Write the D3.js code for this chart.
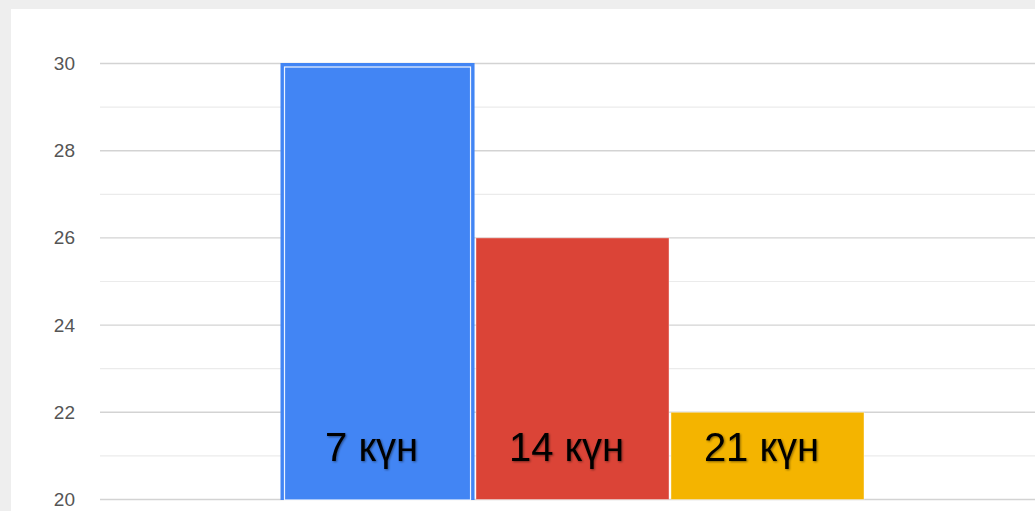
<!DOCTYPE html>
<html>
<head>
<meta charset="utf-8">
<script src="https://cdn.jsdelivr.net/npm/d3@7"></script>
<style>
  body { margin: 0; background: #eeeeee; }
  svg { display: block; }
</style>
</head>
<body>
<script>
// chart data
var categories = ["7 күн", "14 күн", "21 күн"];
var values = [30, 26, 22];
var barColors = ["#4285f4", "#db4437", "#f4b400"];
var tickValues = [20, 22, 24, 26, 28, 30];

var W = 1035, H = 511;

var svg = d3.select("body").append("svg")
    .attr("width", W)
    .attr("height", H);

var defs = svg.append("defs");
var f = defs.append("filter").attr("id", "shadow")
    .attr("x", "-10%").attr("y", "-10%").attr("width", "130%").attr("height", "130%");
f.append("feDropShadow")
    .attr("dx", 1).attr("dy", 1).attr("stdDeviation", 0.8)
    .attr("flood-color", "#000").attr("flood-opacity", 0.45);

// white panel
svg.append("rect")
    .attr("x", 11).attr("y", 9)
    .attr("width", W - 11).attr("height", H - 9)
    .attr("fill", "#fff");

var y = d3.scaleLinear().domain([20, 30]).range([499.5, 63.5]);
var x = d3.scaleBand().domain(categories).range([281, 864]).paddingInner(0.01).paddingOuter(0);

// minor gridlines
svg.append("g").selectAll("line")
    .data(d3.range(21, 31, 2))
  .enter().append("line")
    .attr("x1", 100).attr("x2", W)
    .attr("y1", function(d) { return y(d); })
    .attr("y2", function(d) { return y(d); })
    .attr("stroke", "#ebebeb")
    .attr("stroke-width", 1.2);

// major gridlines
svg.append("g").selectAll("line")
    .data(tickValues)
  .enter().append("line")
    .attr("x1", 100).attr("x2", W)
    .attr("y1", function(d) { return y(d); })
    .attr("y2", function(d) { return y(d); })
    .attr("stroke", "#d3d3d3")
    .attr("stroke-width", 1.4);

// y axis labels
var yAxis = d3.axisLeft(y).tickValues(tickValues).tickSize(0).tickPadding(0);
var ag = svg.append("g")
    .attr("transform", "translate(75,0)")
    .call(yAxis);
ag.select(".domain").remove();
ag.selectAll("text")
    .attr("fill", "#555")
    .attr("font-family", "Liberation Sans, Arial, sans-serif")
    .attr("font-size", 19);

// bars
var bars = svg.append("g").selectAll("g")
    .data(categories)
  .enter().append("g");

bars.append("rect")
    .attr("x", function(d) { return x(d); })
    .attr("y", function(d, i) { return y(values[i]); })
    .attr("width", x.bandwidth())
    .attr("height", function(d, i) { return y(20) - y(values[i]); })
    .attr("fill", function(d, i) { return barColors[i]; })
    .attr("stroke", function(d, i) { return i == 0 ? barColors[i] : "rgba(255,255,255,0.4)"; })
    .attr("stroke-width", 1);

// highlight on the first bar (white inner outline)
bars.filter(function(d, i) { return i == 0; })
  .append("rect")
    .attr("x", function(d) { return x(d) + 3.5; })
    .attr("y", function(d, i) { return y(values[0]) + 3.5; })
    .attr("width", x.bandwidth() - 7)
    .attr("height", y(20) - y(values[0]) - 3)
    .attr("fill", "none")
    .attr("stroke", "#fff")
    .attr("stroke-opacity", 0.9)
    .attr("stroke-width", 1.2);

// bar labels
bars.append("text")
    .attr("x", function(d) { return x(d) + x.bandwidth() / 2 - 6; })
    .attr("y", 461)
    .attr("text-anchor", "middle")
    .attr("font-family", "Liberation Sans, Arial, sans-serif")
    .attr("font-size", 40)
    .attr("fill", "#000")
    .attr("filter", "url(#shadow)")
    .text(function(d) { return d; });
</script>
</body>
</html>
